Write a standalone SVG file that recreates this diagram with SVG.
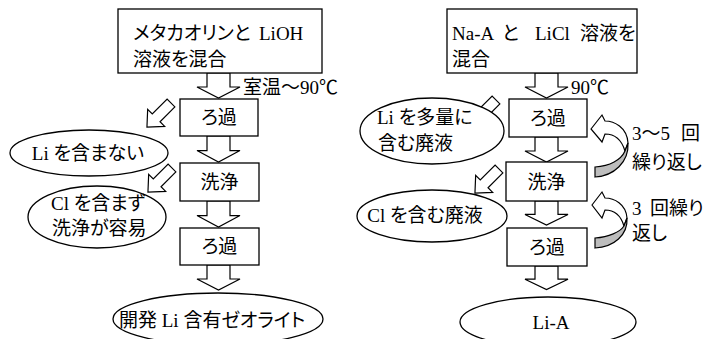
<svg xmlns="http://www.w3.org/2000/svg" width="707" height="339" viewBox="0 0 707 339">
<defs>
<style>
.b{fill:#fff;stroke:#000;stroke-width:1.3}
.a{fill:#fff;stroke:#000;stroke-width:1.2;stroke-linejoin:miter}
.g{fill:#bdbdbd;stroke:#000;stroke-width:1.2}
text{font-family:"Liberation Serif","Noto Sans CJK JP",serif;font-size:19px;fill:#000;font-feature-settings:"palt"}
.c{text-anchor:middle}
</style>
<polygon id="down" points="-11.5,0 11.5,0 11.5,14 21.5,14 0,25 -21.5,14 -11.5,14"/>
<polygon id="diag" points="0,-5.5 21,-5.5 21,-12 34,0 21,12 21,5.5 0,5.5"/>
</defs>
<rect width="707" height="339" fill="#fff"/>
<g id="connectors">
<use href="#down" class="a" x="218.5" y="73"/>
<use href="#down" class="a" transform="translate(218.5,136) scale(1,1.04)"/>
<use href="#down" class="a" transform="translate(218.5,201) scale(1,1.04)"/>
<use href="#down" class="a" transform="translate(218.5,265) scale(1,1.0)"/>
<use href="#down" class="a" x="546.5" y="73"/>
<use href="#down" class="a" transform="translate(546.5,137) scale(1,1.0)"/>
<use href="#down" class="a" transform="translate(546.5,201) scale(1,0.96)"/>
<use href="#down" class="a" transform="translate(546.5,266) scale(1,0.94)"/>
<use href="#diag" class="a" transform="translate(171,103) rotate(135)"/>
<use href="#diag" class="a" transform="translate(172,168) rotate(135)"/>
<use href="#diag" class="a" transform="translate(496,100) rotate(135)"/>
<use href="#diag" class="a" transform="translate(499,169) rotate(135)"/>
<path class="a" d="M591,129 L602,115 L605,121 C614,121 627,127 628,143 L625,151 C622,141 616,134 605,134 L602,142 Z"/>
<path class="g" d="M628,143 C629,162 614,176 595,177 L595,167 C610,166 621,160 625,151 Z"/>
<path class="a" d="M592,205 L602,192 L605,198 C614,198 626,204 627,218 L624,226 C621,216 615,210 605,210 L602,218 Z"/>
<path class="g" d="M627,218 C628,235 614,247 595,248 L595,238 C609,237 620,232 624,226 Z"/>
</g>
<g id="lbl-temp1"><text x="243" y="94">室温～90℃</text></g>
<g id="lbl-temp2"><text x="571" y="94">90℃</text></g>
<g id="lbl-rep1"><text x="632" y="140">3～5<tspan x="681">回</tspan></text><text x="632" y="169">繰り返し</text></g>
<g id="lbl-rep2"><text x="632" y="215">3<tspan x="650">回繰り</tspan></text><text x="632" y="240">返し</text></g>
<g id="L-mix"><rect class="b" x="118" y="9" width="204" height="64"/><text x="133" y="40">メタカオリンと<tspan x="259">LiOH</tspan></text><text x="133" y="66">溶液を混合</text></g>
<g id="L-filter1"><rect class="b" x="180" y="99" width="78" height="37"/><text class="c" x="219" y="124">ろ過</text></g>
<g id="L-wash"><rect class="b" x="180" y="163" width="79" height="38"/><text class="c" x="219.5" y="189">洗浄</text></g>
<g id="L-filter2"><rect class="b" x="180" y="228" width="79" height="37"/><text class="c" x="219.5" y="253">ろ過</text></g>
<g id="L-noLi"><ellipse class="b" cx="89" cy="153" rx="79" ry="23"/><text class="c" x="88" y="160">Li を含まない</text></g>
<g id="L-noCl"><ellipse class="b" cx="97" cy="217" rx="69" ry="31"/><text x="51" y="210">Cl を含まず</text><text x="52" y="235">洗浄が容易</text></g>
<g id="L-product"><ellipse class="b" cx="218" cy="319" rx="105" ry="26"/><text x="119" y="327">開発 Li 含有ゼオライト</text></g>
<g id="R-mix"><rect class="b" x="447" y="9" width="190" height="64"/><text x="452" y="40">Na-A<tspan x="502">と</tspan><tspan x="535">LiCl</tspan><tspan x="580">溶液を</tspan></text><text x="452" y="66">混合</text></g>
<g id="R-filter1"><rect class="b" x="509" y="99" width="78" height="38"/><text class="c" x="548" y="125">ろ過</text></g>
<g id="R-wash"><rect class="b" x="506" y="162" width="81" height="39"/><text class="c" x="546.5" y="189">洗浄</text></g>
<g id="R-filter2"><rect class="b" x="507" y="228" width="80" height="38"/><text class="c" x="547" y="254">ろ過</text></g>
<g id="R-waste1"><ellipse class="b" cx="432" cy="131" rx="72" ry="33"/><text x="377" y="124">Li を多量に</text><text x="378" y="150">含む廃液</text></g>
<g id="R-waste2"><ellipse class="b" cx="432" cy="216" rx="75" ry="26"/><text class="c" x="425" y="222">Cl を含む廃液</text></g>
<g id="R-product"><ellipse class="b" cx="548" cy="322" rx="88" ry="25"/><text class="c" x="551" y="329">Li-A</text></g>
</svg>
